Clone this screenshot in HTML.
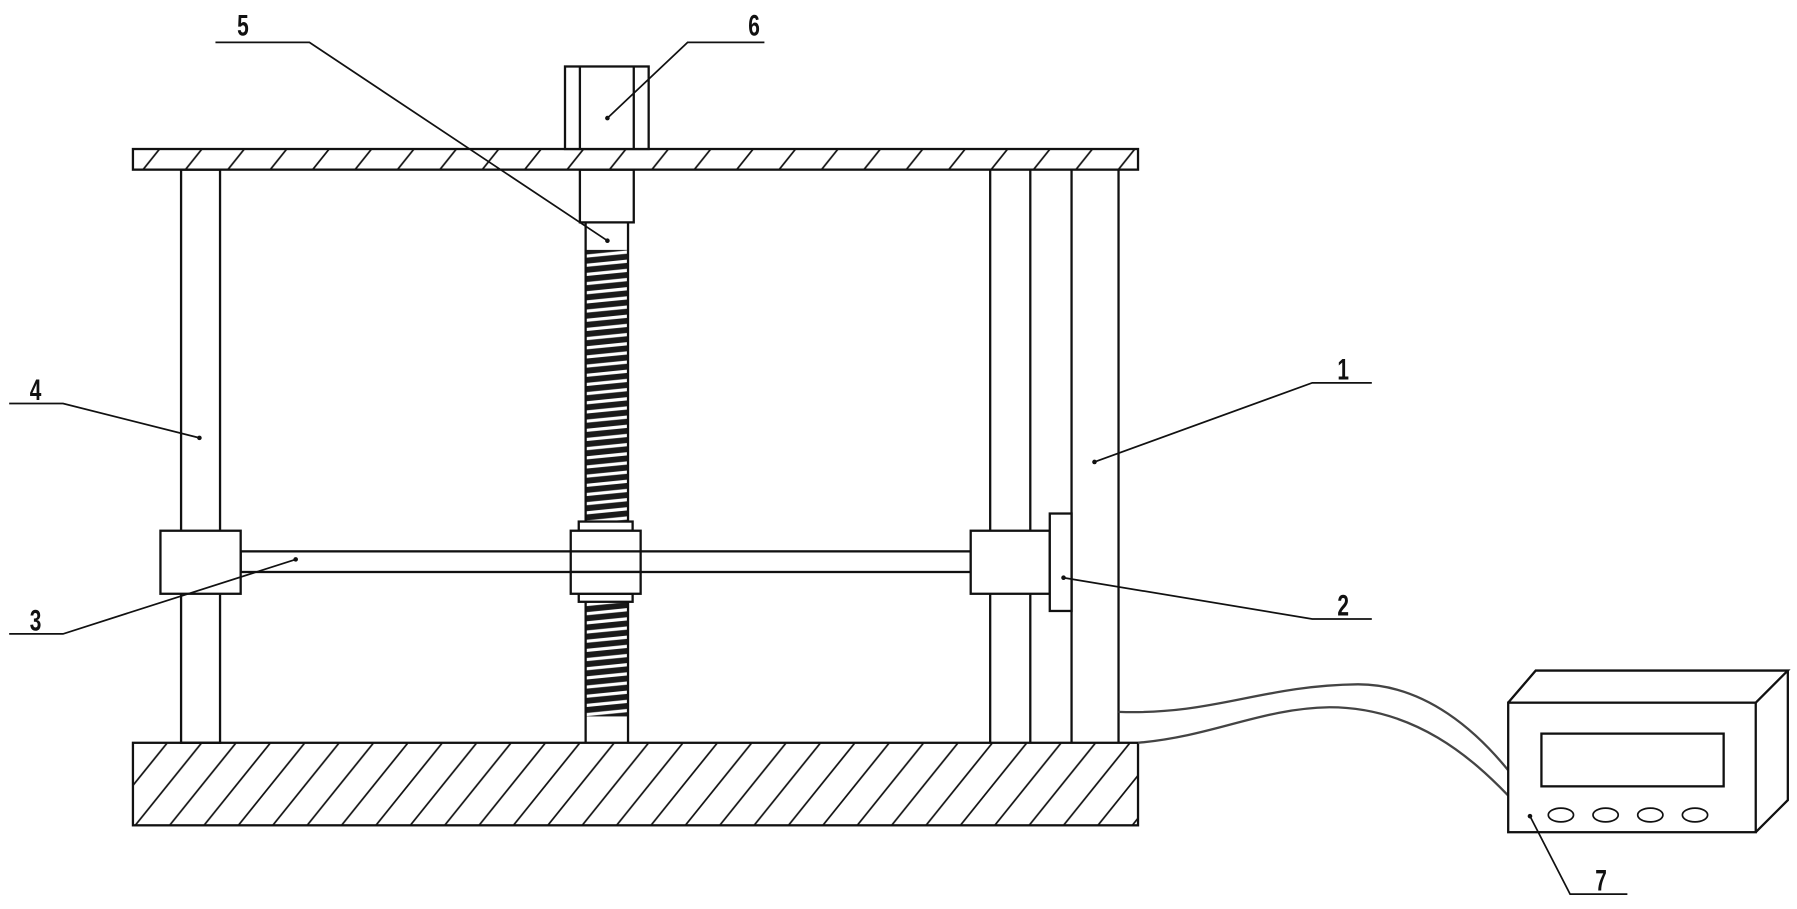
<!DOCTYPE html>
<html><head><meta charset="utf-8"><style>html,body{margin:0;padding:0;background:#fff}svg{display:block}</style></head>
<body>
<svg width="1797" height="909" viewBox="0 0 1568 793" preserveAspectRatio="none" xmlns="http://www.w3.org/2000/svg">
<defs>
<pattern id="h1" patternUnits="userSpaceOnUse" width="37" height="18" x="116" y="130">
<line x1="8" y1="19" x2="24" y2="-1" stroke="#111" stroke-width="1.5"/>
</pattern>
<pattern id="h2" patternUnits="userSpaceOnUse" width="30" height="72" x="116" y="648">
<line x1="-28" y1="72" x2="30" y2="0" stroke="#111" stroke-width="1.5"/>
<line x1="2" y1="72" x2="60" y2="0" stroke="#111" stroke-width="1.5"/>
</pattern>
<pattern id="th" patternUnits="userSpaceOnUse" width="40" height="8" x="511" y="218">
<rect width="40" height="8" fill="#1a1a1a"/>
<line x1="0" y1="5.5" x2="40" y2="1.5" stroke="#fff" stroke-width="2.8"/>
</pattern>
</defs>
<g fill="none" stroke="#111" stroke-width="2">
<rect x="116" y="130" width="877" height="18" fill="url(#h1)"/>
<rect x="493" y="58" width="73" height="72" fill="#fff"/>
<line x1="506" y1="58" x2="506" y2="130"/><line x1="553" y1="58" x2="553" y2="130"/>
<rect x="506" y="148" width="47" height="46"/>
<rect x="511" y="218" width="37" height="237" fill="url(#th)" stroke="none"/>
<rect x="511" y="525" width="37" height="100" fill="url(#th)" stroke="none"/>
<line x1="511" y1="194" x2="511" y2="648"/><line x1="548" y1="194" x2="548" y2="648"/>
<rect x="158" y="148" width="34" height="500"/>
<line x1="864" y1="148" x2="864" y2="648"/><line x1="899" y1="148" x2="899" y2="648"/>
<line x1="935" y1="148" x2="935" y2="648"/><line x1="976" y1="148" x2="976" y2="648"/>
<rect x="210" y="481" width="637" height="18" fill="#fff"/>
<rect x="140" y="463" width="70" height="55" fill="#fff"/>
<rect x="847" y="463" width="69" height="55" fill="#fff"/>
<rect x="916" y="448" width="19" height="85" fill="#fff"/>
<rect x="505" y="455" width="47" height="8" fill="#fff"/>
<rect x="505" y="518" width="47" height="7" fill="#fff"/>
<rect x="498" y="463" width="61" height="18" fill="#fff"/>
<rect x="498" y="499" width="61" height="19" fill="#fff"/>
<line x1="498" y1="481" x2="498" y2="499"/><line x1="559" y1="481" x2="559" y2="499"/>
<rect x="116" y="648" width="877" height="72" fill="url(#h2)"/>
<g stroke-width="2" stroke="#444">
<path d="M976 621 C1060 624 1100 598 1185 597 C1245 597 1290 640 1316 672"/>
<path d="M993 648 C1060 642 1100 618 1160 617 C1235 617 1285 662 1316 694"/>
</g>
<rect x="1316" y="613" width="216" height="113" fill="#fff"/>
<path d="M1316 613 L1340 585 L1560 585 L1532 613 M1560 585 L1560 698 L1532 726"/>
<rect x="1345" y="640" width="159" height="46"/>
<g stroke-width="1.5">
<ellipse cx="1362" cy="711" rx="11" ry="6"/><ellipse cx="1401" cy="711" rx="11" ry="6"/>
<ellipse cx="1440" cy="711" rx="11" ry="6"/><ellipse cx="1479" cy="711" rx="11" ry="6"/>
</g>
<g stroke-width="1.5">
<path d="M188 37 L270 37 L530 210"/>
<path d="M667 37 L600 37 L530 103"/>
<path d="M8 352 L55 352 L174 382"/>
<path d="M1197 334 L1145 334 L955 403"/>
<path d="M8 553 L55 553 L258 488"/>
<path d="M1197 540 L1145 540 L928 504"/>
<path d="M1420 780 L1370 780 L1335 712"/>
</g>
</g>
<g fill="#111">
<circle cx="530" cy="210" r="2"/><circle cx="530" cy="103" r="2"/><circle cx="174" cy="382" r="2"/>
<circle cx="955" cy="403" r="2"/><circle cx="258" cy="488" r="2"/><circle cx="928" cy="504" r="2"/><circle cx="1335" cy="712" r="2"/>
</g>
<g font-family="Liberation Sans, sans-serif" font-weight="bold" font-size="26" fill="#111" text-anchor="middle">
<text transform="translate(212,31) scale(0.7,1)">5</text>
<text transform="translate(658,31) scale(0.7,1)">6</text>
<text transform="translate(31,349) scale(0.7,1)">4</text>
<text transform="translate(1172,331) scale(0.7,1)">1</text>
<text transform="translate(31,550) scale(0.7,1)">3</text>
<text transform="translate(1172,537) scale(0.7,1)">2</text>
<text transform="translate(1397,777) scale(0.7,1)">7</text>
</g>
</svg>
</body></html>
